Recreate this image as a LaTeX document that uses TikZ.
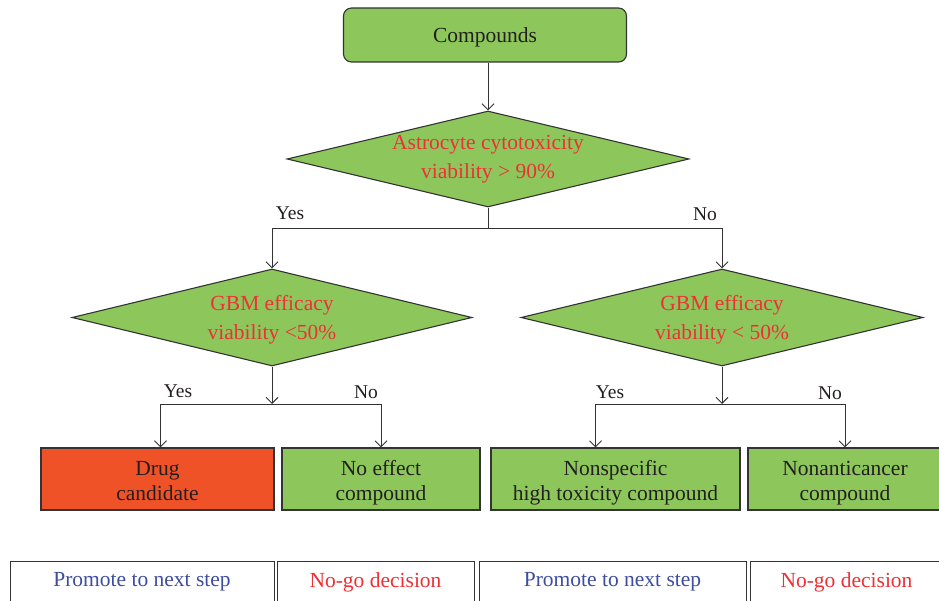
\documentclass[tikz,border=0pt]{standalone}
\usepackage{fontspec}
\setmainfont{Liberation Serif}
\usetikzlibrary{shapes.geometric,arrows.meta}
\definecolor{boxgreen}{HTML}{8DC75B}
\definecolor{boxorange}{HTML}{F05228}
\definecolor{txtred}{HTML}{EE3035}
\definecolor{txtblue}{HTML}{3D4DA0}
\definecolor{edge}{HTML}{333333}
\definecolor{txtdark}{HTML}{231F20}
\begin{document}
\begin{tikzpicture}[x=1pt,y=-1pt,
  every node/.style={font=\fontsize{21.5}{25.5}\selectfont, text=txtdark},
  gbox/.style={draw=edge, line width=1.1pt, fill=boxgreen, inner sep=0pt, align=center, minimum height=62pt},
  obox/.style={gbox, fill=boxorange},
  dia/.style={diamond, shape aspect=4.19, draw=edge, line width=1.1pt, fill=boxgreen, inner sep=0pt, align=center, text=txtred, font=\fontsize{21.5}{28.5}\selectfont},
  lbl/.style={inner sep=0pt, font=\fontsize{19.5}{22}\selectfont},
  legbox/.style={draw=edge, line width=1pt, fill=white, inner sep=0pt, minimum height=42pt, font=\fontsize{21.5}{24}\selectfont},
  conn/.style={draw=edge, line width=1pt},
  arr/.style={conn, -{Straight Barb[length=6pt,width=12pt]}}
]
\useasboundingbox (0,0) rectangle (939,601);

% top box
\node[gbox, rounded corners=8pt, minimum width=283pt, minimum height=54pt] (comp) at (485,35) {\strut\raisebox{-2pt}{Compounds}};

% diamonds
\node[dia, minimum width=402pt, minimum height=96pt] (d1) at (488,159) {Astrocyte cytotoxicity\\viability > 90\%};
\node[dia, minimum width=400pt, minimum height=97pt] (d2) at (272,317.5) {\strut GBM efficacy\\viability <50\%};
\node[dia, minimum width=402pt, minimum height=97pt] (d3) at (722,317.5) {\strut GBM efficacy\\viability < 50\%};

% outcome boxes
\node[obox, minimum width=233pt] (drug) at (157.5,479) {\strut Drug\\\smash{candidate}};
\node[gbox, minimum width=198pt] (noeff) at (381,479) {\strut No effect\\\smash{compound}};
\node[gbox, minimum width=249pt] (nonspec) at (615.5,479) {\strut Nonspecific\\\smash{high toxicity compound}};
\node[gbox, minimum width=194pt] (nonanti) at (845,479) {\strut Nonanticancer\\\smash{compound}};

% junctions
\coordinate (j1) at (488,229);
\coordinate (j2) at (272,404);
\coordinate (j3) at (722,404);

% connectors
\draw[arr] (d1.north |- comp.south) -- (d1.north);
\draw[conn] (d1.south) -- (j1);
\draw[arr] (j1) -| (d2.north);
\draw[arr] (j1) -| (d3.north);

\draw[arr] (d2.south) -- (j2);
\draw[arr] (j2) -| ([xshift=3pt]drug.north);
\draw[arr] (j2) -| (noeff.north);

\draw[arr] (d3.south) -- (j3);
\draw[arr] (j3) -| ([xshift=-20pt]nonspec.north);
\draw[arr] (j3) -| (nonanti.north);

% labels
\node[lbl] (y1) at (290,213) {Yes};
\node[lbl] (n1) at (705,214) {No};
\node[lbl] (y2) at (178,391) {Yes};
\node[lbl] (n2) at (366,392) {No};
\node[lbl] (y3) at (610,392) {Yes};
\node[lbl] (n3) at (830,393) {No};

% legend row
\node[legbox, minimum width=264pt, text=txtblue] (p1) at (142,582) {Promote to next step};
\node[legbox, minimum width=197pt, text=txtred] (g1) at (375.5,582) {No-go decision};
\node[legbox, minimum width=267pt, text=txtblue] (p2) at (612.5,582) {Promote to next step};
\node[legbox, minimum width=193pt, text=txtred] (g2) at (846.5,582) {No-go decision};
\end{tikzpicture}
\end{document}
